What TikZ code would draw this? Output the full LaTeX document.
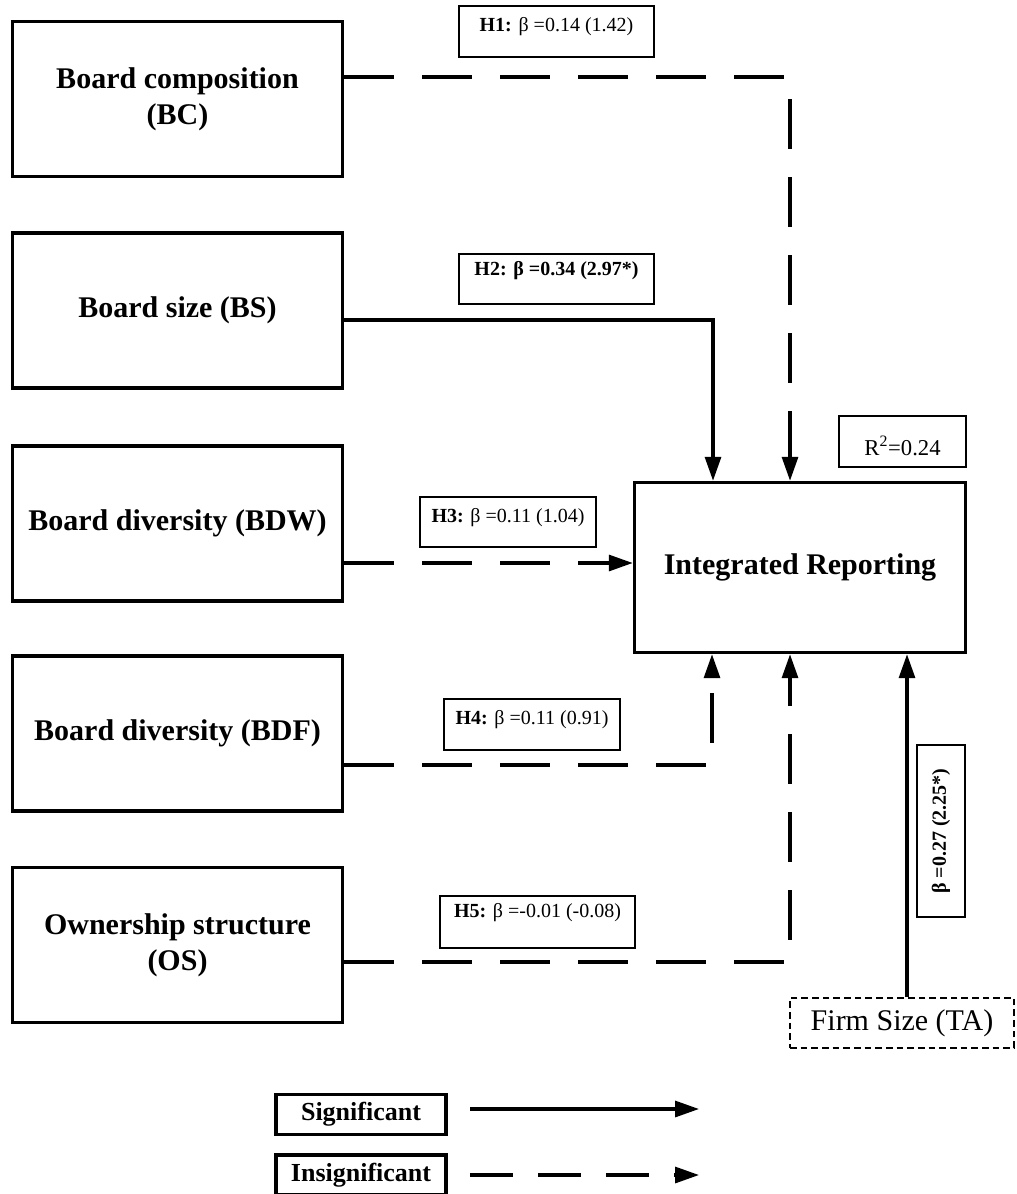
\documentclass[tikz,border=0pt]{standalone}
\usepackage{fontspec}
\setmainfont{Liberation Serif}
\usetikzlibrary{arrows.meta}
\tikzset{
  mainbox/.style={draw, line width=2.6pt, minimum width=330*0.75pt, minimum height=155*0.75pt,
    align=center, inner sep=0pt, font=\fontsize{22.5}{27}\selectfont\bfseries},
  irbox/.style={draw, line width=2.6pt, minimum width=331*0.75pt, minimum height=170*0.75pt,
    align=center, inner sep=0pt, font=\fontsize{22.5}{27}\selectfont\bfseries},
  lbox/.style={draw, line width=1.1pt, inner sep=0pt},
  ltext/.style={inner sep=0pt, font=\fontsize{15}{18}\selectfont},
  legbox/.style={draw, line width=2.6pt, minimum width=170*0.75pt, minimum height=40*0.75pt,
    inner sep=0pt, font=\fontsize{19.5}{23}\selectfont\bfseries},
  conn/.style={line width=2.4pt},
  sigc/.style={conn, -{Triangle[length=18pt,width=12pt]}},
  insc/.style={conn, dash pattern=on 37.5pt off 21pt, -{Triangle[length=18pt,width=12pt]}},
  legins/.style={conn, dash pattern=on 32pt off 19pt, -{Triangle[length=18pt,width=12pt]}},
}
\begin{document}
\begin{tikzpicture}[x=0.75pt,y=-0.75pt]
\useasboundingbox (0,0) rectangle (1016,1194);
% independent variable boxes
\node[mainbox] (bc)  at (177.5,99)   {Board composition\\(BC)};
\node[mainbox] (bs)  at (177.5,310.5) {Board size (BS)};
\node[mainbox] (bdw) at (177.5,523.5) {Board diversity (BDW)};
\node[mainbox] (bdf) at (177.5,733.5) {Board diversity (BDF)};
\node[mainbox] (os)  at (177.5,945)  {Ownership structure\\(OS)};
% dependent
\node[irbox] (ir) at (800,567.5) {Integrated Reporting};
% R2
\node[lbox, minimum width=127*0.75pt, minimum height=51*0.75pt] (r2) at (902.5,441.5) {};
\node[inner sep=0pt, font=\fontsize{17}{20}\selectfont] (r2t) at (902.5,446) {R\textsuperscript{2}=0.24};
% hypothesis label boxes
\node[lbox, minimum width=195*0.75pt, minimum height=51*0.75pt] (h1) at (556.5,31.5) {};
\node[ltext] (h1t) at (556.5,27) {\textbf{H1:} β =0.14 (1.42)};
\node[lbox, minimum width=195*0.75pt, minimum height=50*0.75pt] (h2) at (556.5,279) {};
\node[ltext] (h2t) at (556.5,271) {\textbf{H2: β =0.34 (2.97*)}};
\node[lbox, minimum width=176*0.75pt, minimum height=50*0.75pt] (h3) at (508,522) {};
\node[ltext] (h3t) at (508,518) {\textbf{H3:} β =0.11 (1.04)};
\node[lbox, minimum width=176*0.75pt, minimum height=51*0.75pt] (h4) at (532,724.5) {};
\node[ltext] (h4t) at (532,720) {\textbf{H4:} β =0.11 (0.91)};
\node[lbox, minimum width=195*0.75pt, minimum height=52*0.75pt] (h5) at (537.5,922) {};
\node[ltext] (h5t) at (537.5,913) {\textbf{H5:} β =-0.01 (-0.08)};
% firm size
\node[draw, line width=1.1pt, dash pattern=on 5pt off 3pt, minimum width=224*0.75pt, minimum height=50*0.75pt,
  inner sep=0pt, font=\fontsize{22.5}{27}\selectfont] (fs) at (902,1023) {Firm Size (TA)};
\node[lbox, rotate=90, minimum width=172*0.75pt, minimum height=48*0.75pt,
  font=\fontsize{15}{18}\selectfont\bfseries] (fb) at (941,831) {β =0.27 (2.25*)};
% corner coordinates
\coordinate (c1) at (790,77);
\coordinate (c2) at (713,320);
\coordinate (c3) at (633,563);
\coordinate (c4) at (712,765);
\coordinate (c5) at (790,962);
\coordinate (cf) at (907,998);
% connectors
\draw[insc] (bc.east |- c1) -- (c1) -- (ir.north -| c1);
\draw[sigc] (bs.east |- c2) -- (c2) -- (ir.north -| c2);
\draw[insc] (bdw.east |- c3) -- (ir.west |- c3);
\draw[insc] (bdf.east |- c4) -- (c4) -- (ir.south -| c4);
\draw[insc] (os.east |- c5) -- (c5) -- (ir.south -| c5);
\draw[sigc] (fs.north -| cf) -- (ir.south -| cf);
% legend
\node[legbox] (lsig) at (361,1114.5) {Significant};
\node[legbox] (lins) at (361,1175) {Insignificant};
\coordinate (ls1) at (470,1109);
\coordinate (ls2) at (699,1109);
\coordinate (li1) at (470,1175);
\coordinate (li2) at (699,1175);
\draw[sigc] (ls1) -- (ls2);
\draw[legins] (li1) -- (li2);
\end{tikzpicture}
\end{document}
